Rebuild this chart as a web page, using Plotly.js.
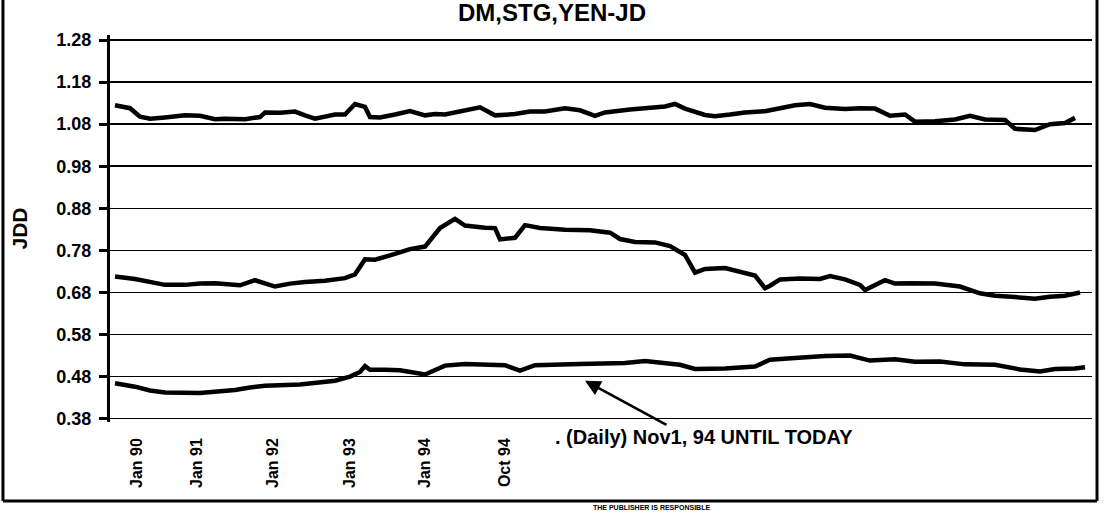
<!DOCTYPE html>
<html>
<head>
<meta charset="utf-8">
<script src="https://cdn.plot.ly/plotly-3.0.1.min.js"></script>
<style>html,body{margin:0;padding:0;background:#fff;}#chart{width:1104px;height:516px;}</style>
</head>
<body>
<div id="chart"></div>
<script>
// observation index (position along the horizontal axis)
const xTop = [1,4,6,8,11,15,18,21,23,27,30,31,34,37,39,41,45,47,49,51,52,54,57,60,63,65,67,71,74,77,81,84,87,91,94,97,99,104,107,111,113,115,119,121,124,127,131,133,137,140,143,147,150,153,156,159,161,165,169,172,175,179,181,185,188,191,193];
const yTop = [1.125,1.118,1.098,1.093,1.096,1.101,1.100,1.092,1.093,1.092,1.097,1.108,1.107,1.110,1.101,1.093,1.103,1.103,1.128,1.121,1.097,1.096,1.103,1.111,1.101,1.104,1.103,1.112,1.120,1.101,1.104,1.110,1.110,1.118,1.113,1.100,1.108,1.115,1.118,1.122,1.128,1.117,1.102,1.099,1.103,1.108,1.111,1.116,1.125,1.128,1.119,1.116,1.118,1.117,1.100,1.103,1.086,1.087,1.091,1.100,1.091,1.090,1.069,1.066,1.080,1.083,1.095];

const xMid = [1,5,11,15,18,21,26,29,33,36,39,43,47,49,51,53,56,60,63,65,66,69,71,75,77,78,81,83,86,91,96,100,102,105,109,112,115,117,119,123,126,129,131,132,134,138,142,144,147,150,151,155,157,160,165,170,174,177,181,185,188,191,194];
const yMid = [0.718,0.712,0.698,0.698,0.701,0.702,0.697,0.709,0.694,0.701,0.705,0.708,0.714,0.723,0.759,0.758,0.768,0.783,0.789,0.821,0.833,0.855,0.839,0.834,0.833,0.806,0.810,0.840,0.833,0.829,0.828,0.822,0.807,0.800,0.799,0.790,0.769,0.727,0.736,0.738,0.729,0.720,0.690,0.696,0.711,0.713,0.712,0.719,0.711,0.698,0.686,0.709,0.701,0.702,0.701,0.694,0.678,0.672,0.669,0.665,0.670,0.672,0.680];

const xBot = [1,5,8,11,18,21,25,28,31,38,41,45,48,50,51,52,55,58,63,67,71,79,82,85,94,103,107,114,117,123,129,132,137,143,148,152,157,161,166,171,177,182,186,189,193,195];
const yBot = [0.464,0.456,0.447,0.442,0.441,0.444,0.448,0.454,0.458,0.461,0.465,0.470,0.480,0.491,0.505,0.496,0.496,0.495,0.485,0.506,0.510,0.507,0.494,0.507,0.510,0.512,0.517,0.508,0.498,0.499,0.504,0.520,0.524,0.529,0.530,0.518,0.521,0.515,0.516,0.509,0.508,0.497,0.492,0.498,0.499,0.502];

const xTickVals = [5.4,17.4,32.6,48,63,79];
const xTickText = ['Jan 90','Jan 91','Jan 92','Jan 93','Jan 94','Oct 94'];
const yTickVals = [0.38,0.48,0.58,0.68,0.78,0.88,0.98,1.08,1.18,1.28];
const yTickText = ['0.38','0.48','0.58','0.68','0.78','0.88','0.98','1.08','1.18','1.28'];

const FONT = 'Liberation Sans, Arial, sans-serif';
const lineStyle = {color:'#000', width:4.5};

const traces = [
  {x:xTop, y:yTop, type:'scatter', mode:'lines', line:lineStyle, name:'DM', hoverinfo:'skip'},
  {x:xMid, y:yMid, type:'scatter', mode:'lines', line:lineStyle, name:'STG', hoverinfo:'skip'},
  {x:xBot, y:yBot, type:'scatter', mode:'lines', line:lineStyle, name:'YEN', hoverinfo:'skip'}
];

const layout = {
  width:1104, height:516,
  margin:{l:110, r:12, t:35, b:94},
  paper_bgcolor:'#fff', plot_bgcolor:'#fff',
  showlegend:false,
  font:{family:FONT, color:'#000'},
  title:{text:'DM,STG,YEN-JD', font:{family:FONT, size:24, weight:'bold', color:'#000'},
         x:0.5, xref:'container', xanchor:'center', y:0.975, yref:'container', yanchor:'middle'},
  xaxis:{range:[0,196.4], showgrid:false, zeroline:false, showline:false, ticks:'',
         tickvals:xTickVals, ticktext:xTickText, tickangle:-90, ticklabelstandoff:12,
         tickfont:{family:FONT, size:16, weight:'bold', color:'#000'}, fixedrange:true},
  yaxis:{range:[0.372,1.292], tickvals:yTickVals, ticktext:yTickText,
         showgrid:true, gridcolor:'#000', gridwidth:1.6, zeroline:false,
         showline:true, linecolor:'#000', linewidth:3,
         ticks:'outside', ticklen:8, tickwidth:3, tickcolor:'#000', ticklabelstandoff:4,
         tickfont:{family:FONT, size:18, weight:'bold', color:'#000'},
         title:{text:'JDD', standoff:24, font:{family:FONT, size:21, weight:'bold', color:'#000'}},
         fixedrange:true},
  shapes:[
    {type:'line', xref:'paper', yref:'paper', x0:-0.109, x1:-0.109, y0:1.12, y1:-0.204, line:{color:'#000', width:3}},
    {type:'line', xref:'paper', yref:'paper', x0:-0.109, x1:1.0051, y0:-0.204, y1:-0.204, line:{color:'#000', width:3}},
    {type:'line', xref:'paper', yref:'paper', x0:1.0051, x1:1.0051, y0:1.12, y1:-0.204, line:{color:'#000', width:3}}
  ],
  annotations:[
    {x:95, y:0.47, xref:'x', yref:'y', text:'', showarrow:true, ax:83, ay:45,
     arrowhead:2, arrowsize:1.2, arrowwidth:2.6, arrowcolor:'#000'},
    {x:0.4511, y:-0.039, xref:'paper', yref:'paper', xanchor:'left', yanchor:'middle', showarrow:false,
     text:'. (Daily) Nov1, 94 UNTIL TODAY', font:{family:FONT, size:20, weight:'bold', color:'#000'}},
    {x:0.613, y:-0.222, xref:'paper', yref:'paper', xanchor:'right', yanchor:'middle', showarrow:false,
     text:'THE PUBLISHER IS RESPONSIBLE', font:{family:FONT, size:7, weight:'bold', color:'#000'}}
  ]
};

Plotly.newPlot('chart', traces, layout, {displayModeBar:false, staticPlot:true});
</script>
</body>
</html>
